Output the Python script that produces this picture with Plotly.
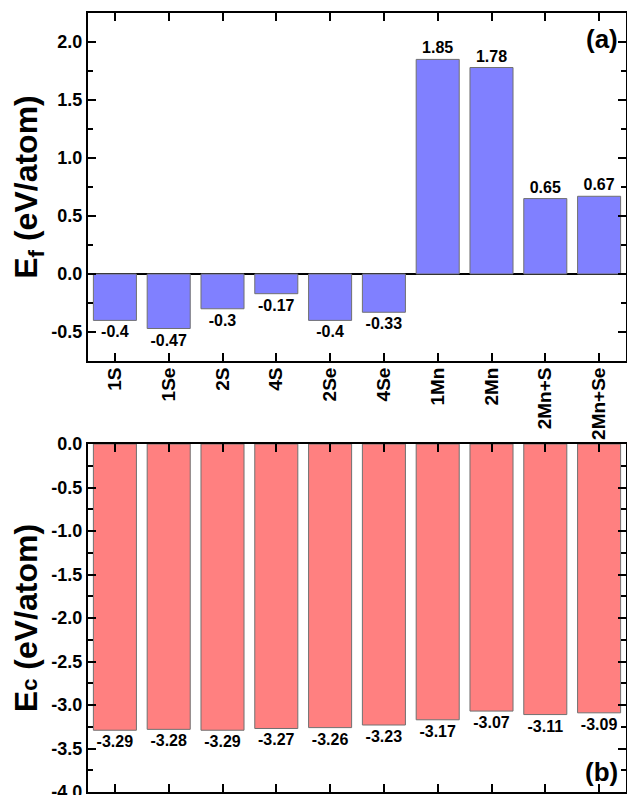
import plotly.graph_objects as go

# Defect configurations
categories = ["1S", "1Se", "2S", "4S", "2Se", "4Se", "1Mn", "2Mn", "2Mn+S", "2Mn+Se"]
# Formation energy (eV/atom)
formation_energy = [-0.4, -0.47, -0.3, -0.17, -0.4, -0.33, 1.85, 1.78, 0.65, 0.67]
# Cohesive energy (eV/atom)
cohesive_energy = [-3.29, -3.28, -3.29, -3.27, -3.26, -3.23, -3.17, -3.07, -3.11, -3.09]

# Tick labels for both panels
ef_tickvals = [-0.5, 0.0, 0.5, 1.0, 1.5, 2.0]
ef_ticktext = ["-0.5", "0.0", "0.5", "1.0", "1.5", "2.0"]
ec_tickvals = [-4.0, -3.5, -3.0, -2.5, -2.0, -1.5, -1.0, -0.5, 0.0]
ec_ticktext = ["-4.0", "-3.5", "-3.0", "-2.5", "-2.0", "-1.5", "-1.0", "-0.5", "0.0"]

FONT = "Liberation Sans, Arial, sans-serif"
BLUE = "#8080ff"
RED = "#ff8080"
EDGE = "#707070"

fig = go.Figure()

fig.add_trace(go.Bar(
    x=categories, y=formation_energy, xaxis="x", yaxis="y",
    width=0.8,
    marker=dict(color=BLUE, line=dict(color=EDGE, width=1)),
    text=[f"{v:g}" for v in formation_energy],
    textposition="outside", constraintext="none", cliponaxis=False,
    textfont=dict(family=FONT, size=16, color="black", weight="bold"),
    showlegend=False,
))

fig.add_trace(go.Bar(
    x=categories, y=cohesive_energy, xaxis="x2", yaxis="y2",
    width=0.8,
    marker=dict(color=RED, line=dict(color=EDGE, width=1)),
    text=[f"{v:g}" for v in cohesive_energy],
    textposition="outside", constraintext="none", cliponaxis=False,
    textfont=dict(family=FONT, size=16, color="black", weight="bold"),
    showlegend=False,
))

frame = dict(showline=True, linecolor="black", linewidth=2, mirror="allticks",
             ticks="inside", ticklen=8, tickwidth=2, tickcolor="black",
             showgrid=False, automargin=False)
minor = dict(ticks="inside", ticklen=5, tickwidth=2, tickcolor="black",
             tickmode="linear", tick0=0, dtick=0.25, showgrid=False)

fig.update_layout(
    width=627, height=795,
    margin=dict(l=88, r=1, t=13, b=3),
    paper_bgcolor="white", plot_bgcolor="white",
    font=dict(family=FONT, color="black"),
    bargap=0.2,
    xaxis=dict(**frame, type="category", range=[-0.5, 9.5], domain=[0, 1],
               anchor="y", tickangle=-90, ticklabelstandoff=-3,
               tickfont=dict(family=FONT, size=19, weight="bold")),
    yaxis=dict(**frame, range=[-0.75, 2.25], domain=[0.5533, 1], anchor="x",
               tickmode="array", tickvals=ef_tickvals, ticktext=ef_ticktext,
               minor=minor,
               zeroline=True, zerolinecolor="black", zerolinewidth=2,
               tickfont=dict(family=FONT, size=18, weight="bold"),
               title=dict(text="E<sub>f</sub> (eV/atom)", standoff=4,
                          font=dict(family=FONT, size=32, weight="bold"))),
    xaxis2=dict(**frame, type="category", range=[-0.5, 9.5], domain=[0, 1],
                anchor="y2", showticklabels=False),
    yaxis2=dict(**frame, range=[-4.0, 0.0], domain=[0, 0.4467], anchor="x2",
                tickmode="array", tickvals=ec_tickvals, ticktext=ec_ticktext,
                ticklabeloverflow="allow",
                minor=minor, zeroline=False,
                tickfont=dict(family=FONT, size=18, weight="bold"),
                title=dict(text="E<span style='font-size:22px'>c</span> (eV/atom)",
                           standoff=4,
                           font=dict(family=FONT, size=32, weight="bold"))),
    annotations=[
        dict(text="(a)", xref="x domain", yref="y domain", x=0.988, y=0.925,
             xanchor="right", yanchor="middle", showarrow=False,
             font=dict(family=FONT, size=26, weight="bold")),
        dict(text="(b)", xref="x2 domain", yref="y2 domain", x=0.988, y=0.057,
             xanchor="right", yanchor="middle", showarrow=False,
             font=dict(family=FONT, size=26, weight="bold")),
    ],
)

fig.write_html("out.html")
